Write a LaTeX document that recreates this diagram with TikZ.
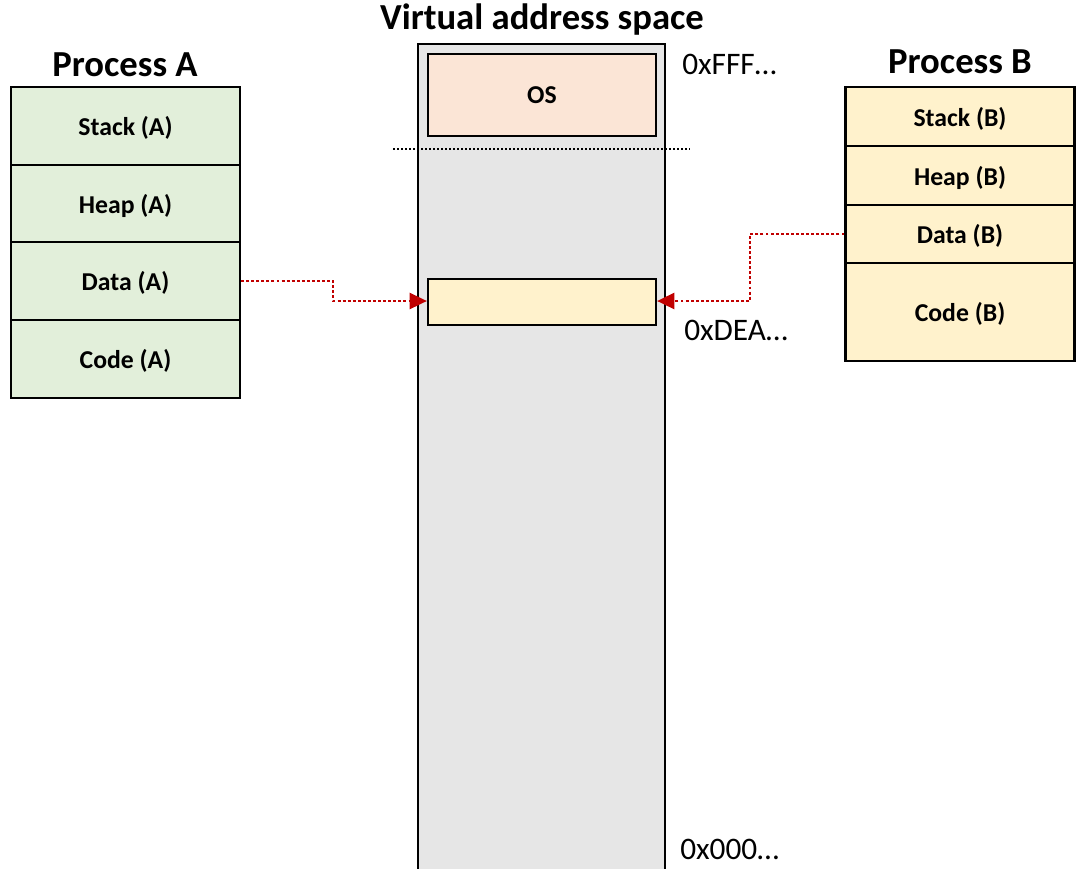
\documentclass[tikz,border=0pt]{standalone}
\usepackage{fontspec}
\setmainfont{Carlito}
\usetikzlibrary{arrows.meta}
\definecolor{segA}{HTML}{E2EFDA}
\definecolor{segB}{HTML}{FFF2CC}
\definecolor{osfill}{HTML}{FBE5D6}
\definecolor{vasfill}{HTML}{E6E6E6}
\definecolor{linkred}{HTML}{C00000}
\begin{document}
\begin{tikzpicture}[x=0.75pt,y=-0.75pt,
  seg/.style={draw=black, line width=1.6pt, inner sep=0pt, text depth=0pt,
    minimum width=229*0.75pt, font=\bfseries\fontsize{19.3}{22}\selectfont},
  title/.style={font=\bfseries\fontsize{27.5}{31}\selectfont, inner sep=0pt},
  addr/.style={font=\fontsize{23.5}{27}\selectfont, inner sep=0pt, anchor=west},
  link/.style={draw=linkred, line width=2pt, dash pattern=on 2.2pt off 1.6pt,
    -{Triangle[length=13pt,width=12pt]}}]
\useasboundingbox (0,0) rectangle (1078,868);

% virtual address space column
\draw[fill=vasfill, line width=1.6pt] (418,44) rectangle (665,872);
\node[title] (vastitle) at (542,20) {Virtual address space};
\node[seg, fill=osfill, minimum width=228*0.75pt, minimum height=82*0.75pt] (os) at (542,95) {OS};
\draw[line width=1.5pt, dash pattern=on 1.5pt off 1.5pt] (393,149) -- (690,149);
\node[seg, fill=segB, minimum width=228*0.75pt, minimum height=46*0.75pt] (shared) at (542,302) {};
\node[addr] (top) at (682,64) {0xFFF…};
\node[addr] (mid) at (684,330) {0xDEA…};
\node[addr] (bot) at (680,849) {0x000…};

% process A
\node[title] (titleA) at (125,65) {Process A};
\node[seg, fill=segA, minimum height=78*0.75pt] (stackA) at (125.5,126) {Stack (A)};
\node[seg, fill=segA, minimum height=77*0.75pt] (heapA) at (125.5,203.5) {Heap (A)};
\node[seg, fill=segA, minimum height=78*0.75pt] (dataA) at (125.5,281) {Data (A)};
\node[seg, fill=segA, minimum height=78*0.75pt] (codeA) at (125.5,359) {Code (A)};

% process B
\node[title] (titleB) at (960,62) {Process B};
\node[seg, fill=segB, minimum height=59*0.75pt] (stackB) at (960,116.5) {Stack (B)};
\node[seg, fill=segB, minimum height=59*0.75pt] (heapB) at (960,175.5) {Heap (B)};
\node[seg, fill=segB, minimum height=58*0.75pt] (dataB) at (960,234) {Data (B)};
\node[seg, fill=segB, minimum height=98*0.75pt] (codeB) at (960,312) {Code (B)};

% mappings into the shared region
\draw[link] (dataA.east) -- (333,281) -- (333,301) -- (shared.west |- 0,301);
\draw[link] (dataB.west) -- (750,234) -- (750,301) -- (shared.east |- 0,301);
\end{tikzpicture}
\end{document}
